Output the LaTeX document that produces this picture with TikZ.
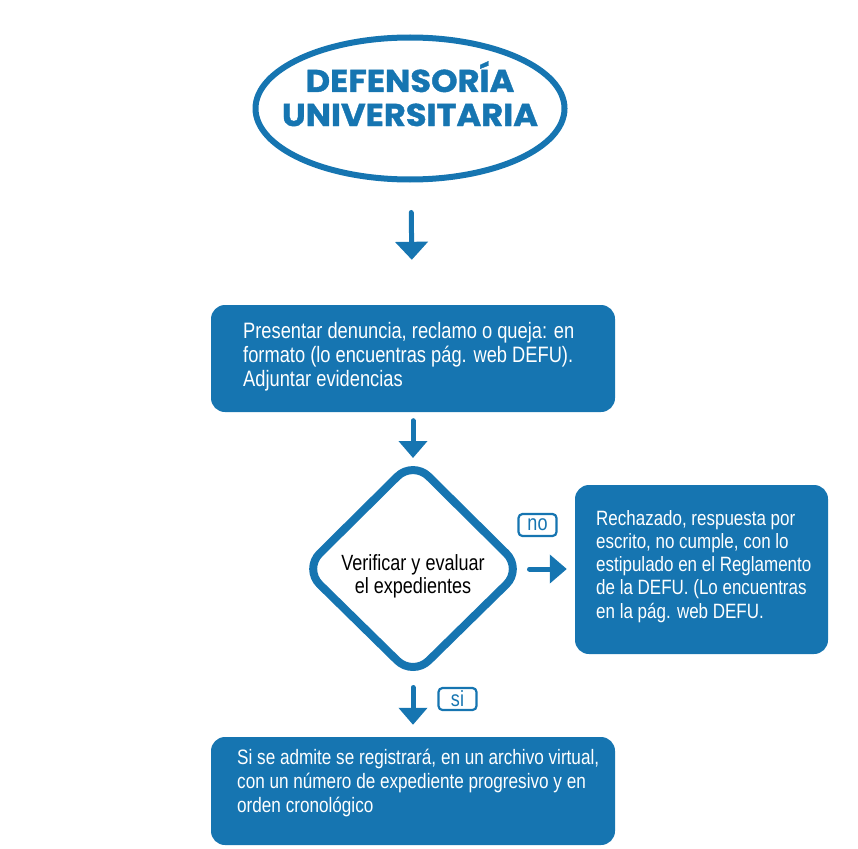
\documentclass[tikz,border=0pt]{standalone}
\usepackage{fontspec}
\setmainfont{Liberation Sans}[FakeStretch=0.82]
\newfontfamily\titlefont{Poppins}[BoldFont={Poppins Bold},
  BoldFeatures={FakeStretch=1.07, FakeBold=1.2}]
\usetikzlibrary{arrows.meta,shapes.geometric}
\definecolor{defu}{RGB}{22,117,177}

\tikzset{
  flowbox/.style={rectangle, rounded corners=14pt, fill=defu, inner sep=0pt},
  boxtext/.style={anchor=base west, text=white, inner sep=0pt,
    font=\fontsize{22}{24.2}\selectfont},
  flowarrow/.style={draw=defu, line width=5pt, line cap=round,
    -{Triangle[width=28pt,length=17pt]}},
  tag/.style={draw=defu, line width=2.2pt, rounded corners=4pt, text=defu,
    minimum width=38pt, minimum height=22pt, inner sep=0pt,
    font=\fontsize{22}{22}\selectfont},
  headline/.style={anchor=base, text=defu, inner sep=0pt,
    font=\titlefont\bfseries\fontsize{31.5}{31.5}\selectfont},
}

\begin{document}
\begin{tikzpicture}[x=1pt,y=-1pt]
\useasboundingbox (0,0) rectangle (858,848);

% title ellipse
\node[ellipse, draw=defu, line width=6pt, minimum width=309pt,
      minimum height=142pt, inner sep=0pt] (head) at (410,108.5) {};
\node[headline] (head1) at (410,92) {DEFENSORÍA};
\node[headline] (head2) at (410,126) {UNIVERSITARIA};

% first step
\node[flowbox, minimum width=404pt, minimum height=107pt] (present) at (413,358.5) {};
\node[boxtext, font=\fontsize{22.3}{24.2}\selectfont] (presenttext) at (243,338.3)
  {\vtop{\hbox{Presentar denuncia, reclamo o queja: en}
         \hbox{formato (lo encuentras pág. web DEFU).}
         \hbox{Adjuntar evidencias}}};

% decision
\coordinate (dtop) at (413,461);
\coordinate (dright) at (522,569);
\coordinate (dbottom) at (413,676);
\coordinate (dleft) at (304,569);
\draw[defu, line width=8pt, rounded corners=22pt, fill=white]
  (dtop) -- (dright) -- (dbottom) -- (dleft) -- cycle;
\node[anchor=base, inner sep=0pt, font=\fontsize{22}{23.5}\selectfont]
  (check) at (413,570)
  {\vtop{\hbox to 0pt{\hss Verificar y evaluar\hss}
         \hbox to 0pt{\hss el expedientes\hss}}};

% rejection
\node[flowbox, minimum width=253pt, minimum height=169pt] (reject) at (701.5,569.5) {};
\node[boxtext, font=\fontsize{20.7}{23.3}\selectfont] (rejecttext) at (596,525)
  {\vtop{\hbox{Rechazado, respuesta por}
         \hbox{escrito, no cumple, con lo}
         \hbox{estipulado en el Reglamento}
         \hbox{de la DEFU. (Lo encuentras}
         \hbox{en la pág. web DEFU.}}};

% registration
\node[flowbox, minimum width=404pt, minimum height=108pt] (register) at (413,791) {};
\node[boxtext, font=\fontsize{20.9}{24}\selectfont] (registertext) at (237,764.3)
  {\vtop{\hbox{Si se admite se registrará, en un archivo virtual,}
         \hbox{con un número de expediente progresivo y en}
         \hbox{orden cronológico}}};

% connectors
\draw[flowarrow, -{Triangle[width=32pt,length=18pt]}, shorten <=30pt, shorten >=45pt]
  (head) -- (present);
\draw[flowarrow, shorten <=8.5pt, shorten >=3pt] (present) -- (dtop);
\draw[flowarrow, shorten <=7.5pt, shorten >=8pt] (dright) -- (dright -| reject.west);
\draw[flowarrow, shorten <=11.5pt, shorten >=12pt] (dbottom) -- (register);

% branch labels
\node[tag] (no) at (537.5,525) {no};
\node[tag] (si) at (457.5,699) {si};
\end{tikzpicture}
\end{document}
